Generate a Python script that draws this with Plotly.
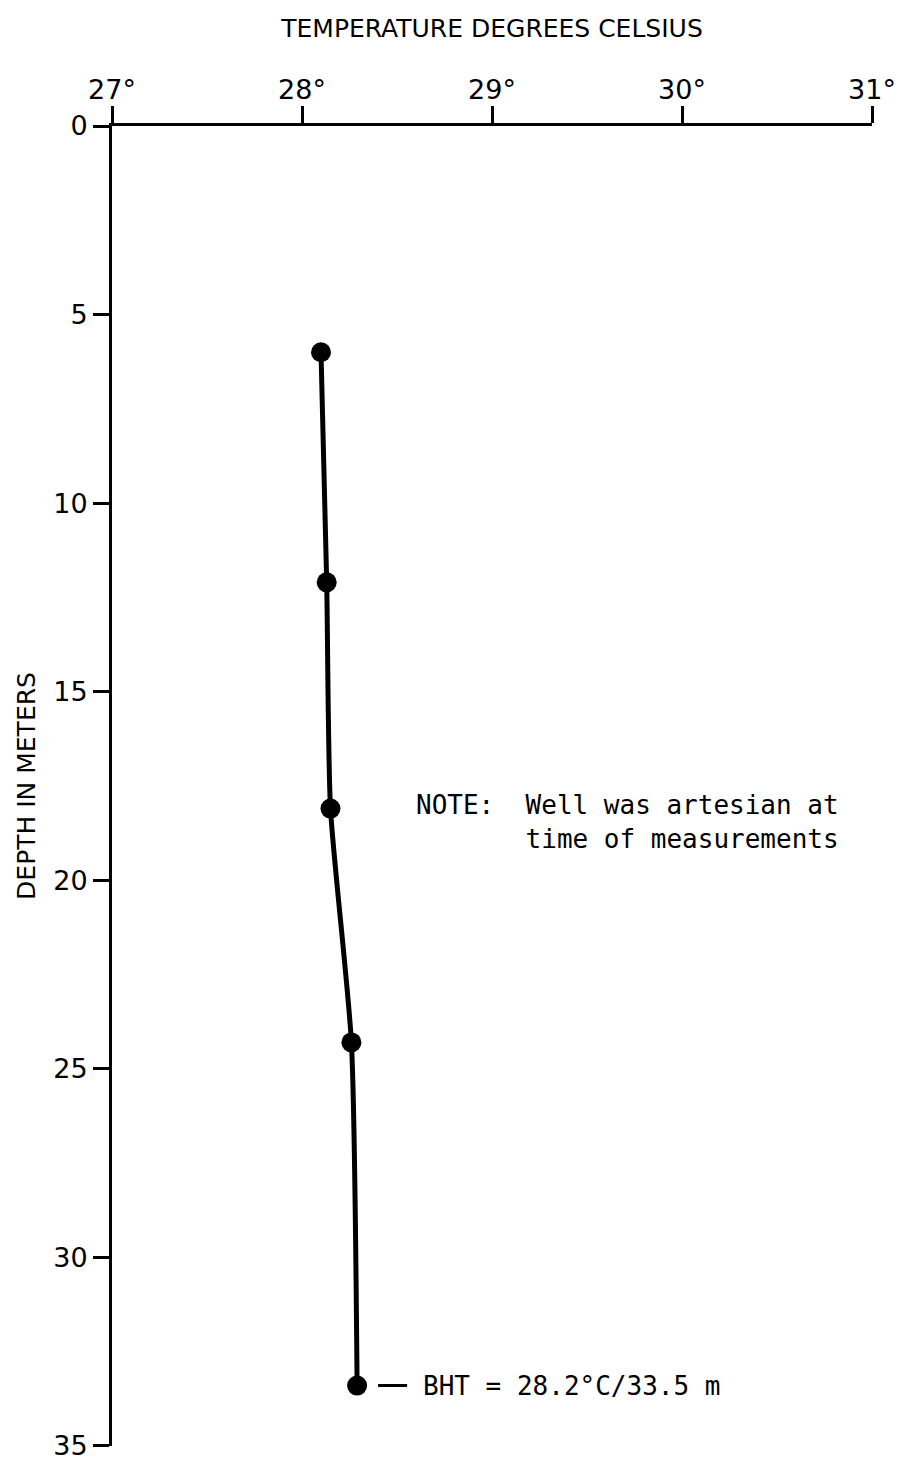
import plotly.graph_objects as go

# Data
temperature_c = [28.10, 28.13, 28.15, 28.26, 28.29]
depth_m = [6.0, 12.1, 18.1, 24.3, 33.4]

x_ticks = [27, 28, 29, 30, 31]
x_ticklabels = ["27°", "28°", "29°", "30°", "31°"]
y_ticks = [0, 5, 10, 15, 20, 25, 30, 35]

note_text = "NOTE:\u00a0\u00a0Well was artesian at<br>\u00a0\u00a0\u00a0\u00a0\u00a0\u00a0\u00a0time of measurements"
bht_text = "BHT = 28.2°C/33.5 m"

fig = go.Figure()
fig.add_trace(go.Scatter(
    x=temperature_c, y=depth_m,
    mode="lines+markers",
    line=dict(color="black", width=5, shape="spline", smoothing=0.6),
    marker=dict(color="black", size=20),
    showlegend=False,
    hoverinfo="skip",
))

fig.add_annotation(
    x=28.59, y=18.45, xref="x", yref="y",
    text=note_text, showarrow=False,
    xanchor="left", yanchor="middle", align="left",
    font=dict(family="DejaVu Sans Mono", size=26, color="black"),
)

fig.add_annotation(
    x=temperature_c[-1], y=depth_m[-1], xref="x", yref="y",
    text=bht_text, showarrow=True,
    arrowhead=0, arrowwidth=3, arrowcolor="black",
    ax=64, ay=0, xanchor="left", yanchor="middle",
    standoff=21, startstandoff=14,
    font=dict(family="DejaVu Sans Mono", size=26, color="black"),
)

tick_font = dict(family="DejaVu Sans", size=27, color="black")

fig.update_xaxes(
    side="top", range=[27, 31],
    tickmode="array", tickvals=x_ticks, ticktext=x_ticklabels,
    ticks="outside", ticklen=17, tickwidth=2.5, tickcolor="black",
    showline=True, linewidth=3, linecolor="black",
    showgrid=False, zeroline=False,
    tickfont=tick_font, ticklabelstandoff=-4, ticklabeloverflow="allow",
    title=dict(text="TEMPERATURE DEGREES CELSIUS", standoff=30,
               font=dict(family="DejaVu Sans", size=25, color="black")),
)
fig.update_yaxes(
    range=[35.002, 0],
    tickmode="array", tickvals=y_ticks,
    ticks="outside", ticklen=16, tickwidth=2.5, tickcolor="black",
    showline=True, linewidth=3, linecolor="black",
    showgrid=False, zeroline=False,
    tickfont=tick_font, ticklabelstandoff=0, ticklabeloverflow="allow",
    title=dict(text="DEPTH IN METERS", standoff=11,
               font=dict(family="DejaVu Sans", size=25, color="black")),
)

fig.update_layout(
    width=900, height=1465,
    margin=dict(l=112, r=28, t=126, b=19, autoexpand=False),
    plot_bgcolor="white", paper_bgcolor="white",
)

fig.write_html("out.html")
